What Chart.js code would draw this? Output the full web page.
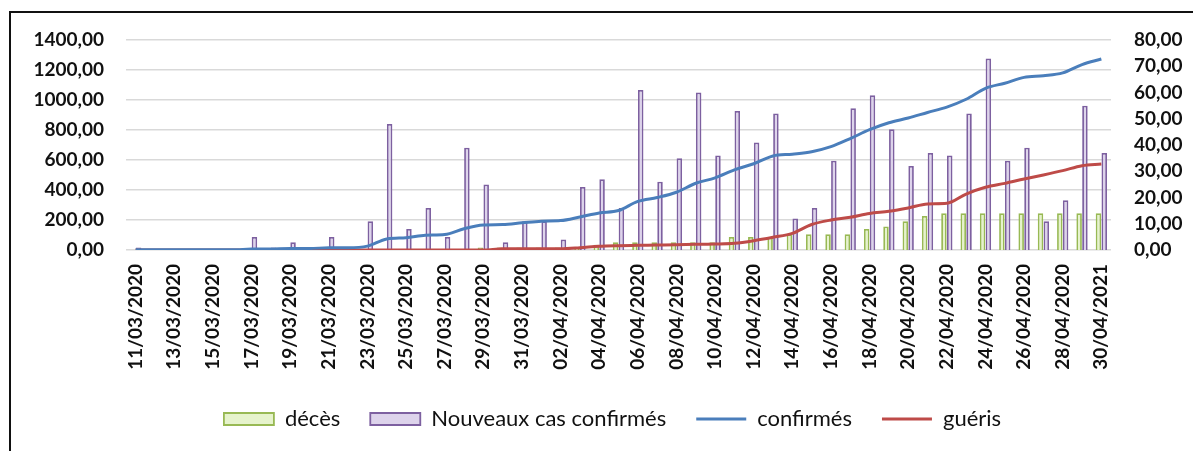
<!DOCTYPE html>
<html>
<head>
<meta charset="utf-8">
<script src="https://cdn.jsdelivr.net/npm/chart.js@4/dist/chart.umd.min.js"></script>
<style>
  html, body { margin: 0; padding: 0; background: #fff; }
  #wrap { position: relative; width: 1193px; height: 451px; }
  #wrap canvas { position: absolute; left: 0; top: 0; }
  #frame { position: absolute; left: 9px; top: 11px; right: 0; bottom: 0;
           border-left: 2px solid #111; border-top: 2px solid #111; pointer-events: none; }
</style>
</head>
<body>
<div id="wrap">
  <canvas id="chart" width="1193" height="451"></canvas>
  <div id="frame"></div>
</div>
<script>
// dates (one per day, label shown every other day)
const dates = [
  '11/03/2020','12/03/2020','13/03/2020','14/03/2020','15/03/2020','16/03/2020','17/03/2020',
  '18/03/2020','19/03/2020','20/03/2020','21/03/2020','22/03/2020','23/03/2020','24/03/2020',
  '25/03/2020','26/03/2020','27/03/2020','28/03/2020','29/03/2020','30/03/2020','31/03/2020',
  '01/04/2020','02/04/2020','03/04/2020','04/04/2020','05/04/2020','06/04/2020','07/04/2020',
  '08/04/2020','09/04/2020','10/04/2020','11/04/2020','12/04/2020','13/04/2020','14/04/2020',
  '15/04/2020','16/04/2020','17/04/2020','18/04/2020','19/04/2020','20/04/2020','21/04/2020',
  '22/04/2020','23/04/2020','24/04/2020','25/04/2020','26/04/2020','27/04/2020','28/04/2020',
  '29/04/2020','30/04/2021'
];

// right axis
const deces = [
  0,0,0,0,0,0,0,0,0,0,0,0,0,0,0,0,0,0,
  1,1,1,1,1,1,2,3,3,3,3,3,3,
  5,5,5,6,6,6,6,8,9,11,13,14,14,14,14,14,14,14,14,14
];
const nouveauxCas = [
  1,0,0,0,0,0,5,1,3,0,5,0,11,48,8,16,5,39,25,3,11,11,4,24,27,16,
  61,26,35,60,36,53,41,52,12,16,34,54,59,46,32,37,36,52,73,34,39,11,19,55,37
];

// left axis
const confirmes = [
  1,1,1,1,1,1,6,7,10,10,15,15,26,74,82,98,103,142,167,170,181,192,196,220,247,263,
  324,350,385,445,481,534,575,627,639,655,689,743,802,848,880,917,953,1005,1078,1112,
  1151,1162,1181,1236,1273
];
const gueris = [
  0,0,0,0,0,0,0,0,0,0,0,0,0,0,0,0,0,0,0,
  8,8,8,8,15,25,29,31,33,35,38,40,
  45,62,85,111,170,200,218,244,258,280,307,311,373,418,444,473,500,529,562,573
];

const fmt = v => Number(v).toFixed(2).replace('.', ',');
const tickFont = { family: 'Lato', size: 19, weight: 'bold' };

new Chart(document.getElementById('chart'), {
  type: 'bar',
  data: {
    labels: dates,
    datasets: [
      {
        label: 'décès',
        data: deces,
        yAxisID: 'y1',
        backgroundColor: '#e6f3cc',
        borderColor: '#98b954',
        borderWidth: 1.8,
        pointStyle: 'rect',
        categoryPercentage: 0.6,
        barPercentage: 0.95,
        order: 1
      },
      {
        label: 'Nouveaux cas confirmés',
        data: nouveauxCas,
        yAxisID: 'y1',
        backgroundColor: '#ddd3eb',
        borderColor: '#7d60a0',
        borderWidth: 1.8,
        pointStyle: 'rect',
        categoryPercentage: 0.6,
        barPercentage: 0.95,
        order: 1
      },
      {
        type: 'line',
        label: 'confirmés',
        data: confirmes,
        yAxisID: 'y',
        borderColor: '#4a7ebb',
        backgroundColor: '#4a7ebb',
        borderWidth: 3,
        pointRadius: 0,
        pointStyle: 'line',
        cubicInterpolationMode: 'monotone',
        order: 0
      },
      {
        type: 'line',
        label: 'guéris',
        data: gueris,
        yAxisID: 'y',
        borderColor: '#be4b48',
        backgroundColor: '#be4b48',
        borderWidth: 3,
        pointRadius: 0,
        pointStyle: 'line',
        cubicInterpolationMode: 'monotone',
        order: 0
      }
    ]
  },
  options: {
    responsive: false,
    animation: false,
    layout: { padding: { left: 32, right: 0, top: 40, bottom: 11 } },
    plugins: {
      tooltip: { enabled: false },
      legend: {
        position: 'bottom',
        labels: {
          usePointStyle: true,
          pointStyleWidth: 50,
          boxHeight: 12,
          padding: 30,
          color: '#111',
          font: { family: 'Lato', size: 22 },
          sort: (a, b) => a.datasetIndex - b.datasetIndex
        }
      }
    },
    scales: {
      x: {
        grid: { display: false, drawTicks: false },
        border: { display: false },
        ticks: {
          autoSkip: false,
          minRotation: 90,
          maxRotation: 90,
          padding: 14,
          color: '#111',
          font: { family: 'Lato', size: 19, weight: 'bold' },
          callback: (v, i) => (i % 2 === 0 ? dates[i] : '')
        },
        afterFit: s => { s.height = 128; }
      },
      y: {
        position: 'left',
        min: 0,
        max: 1400,
        ticks: { stepSize: 200, padding: 22, color: '#111', font: tickFont, callback: fmt },
        grid: { color: '#d9d9d9', lineWidth: 1.5, drawTicks: false },
        border: { display: false },
        afterFit: s => { s.width = 94; }
      },
      y1: {
        position: 'right',
        min: 0,
        max: 80,
        ticks: { stepSize: 10, padding: 23, color: '#111', font: tickFont, callback: fmt },
        grid: { display: false, drawTicks: false },
        border: { display: false },
        afterFit: s => { s.width = 82; }
      }
    }
  }
});
</script>
</body>
</html>
